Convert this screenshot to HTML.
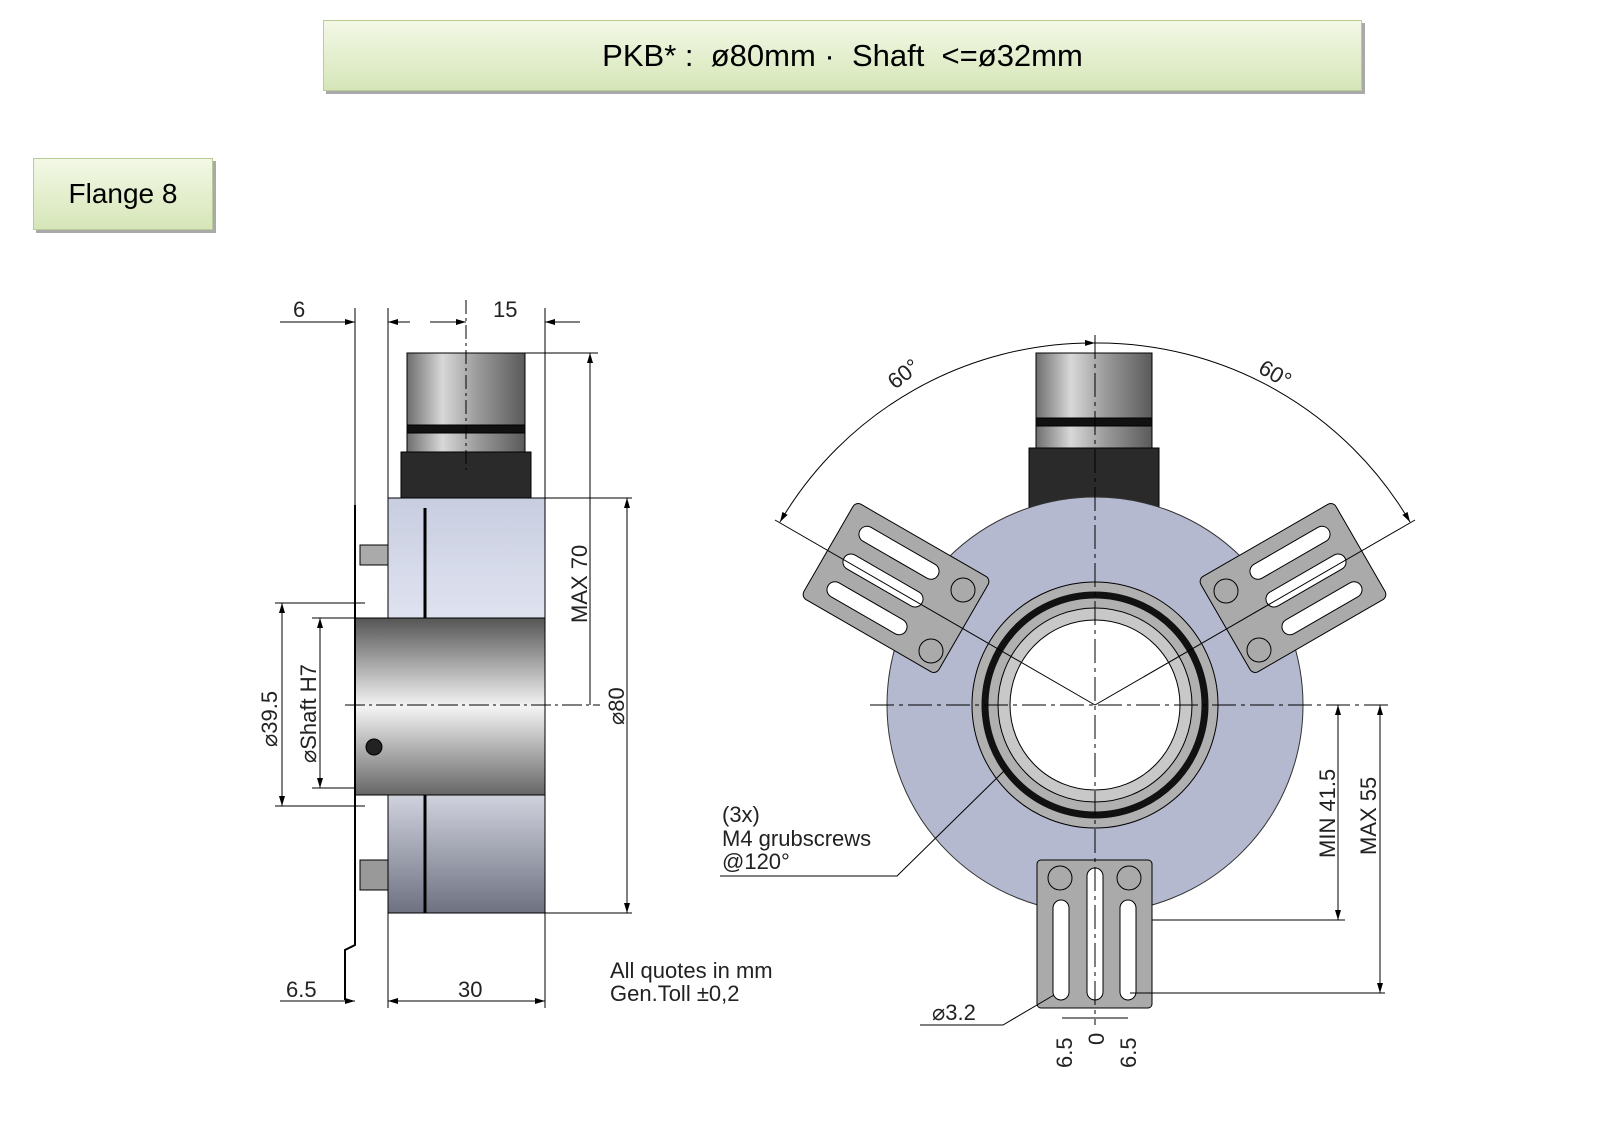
<!DOCTYPE html>
<html><head><meta charset="utf-8"><style>
body{margin:0;background:#fff;width:1597px;height:1128px;overflow:hidden;font-family:"Liberation Sans",sans-serif}
.box{position:absolute;background:linear-gradient(#f3f8e6,#d6e6b8);border:1px solid #b9cc97;box-shadow:3px 3px 0 #a9a9a9;color:#000;display:flex;align-items:center;justify-content:center}
</style></head><body>
<div class="box" style="left:323px;top:20px;width:1037px;height:69px;font-size:31px">PKB* :&nbsp; ø80mm ·&nbsp; Shaft&nbsp; &lt;=ø32mm</div>
<div class="box" style="left:33px;top:158px;width:178px;height:70px;font-size:28px">Flange 8</div>
<svg width="1597" height="1128" style="position:absolute;left:0;top:0" font-family="Liberation Sans" fill="none">
<defs>
<linearGradient id="met" x1="0" x2="1"><stop offset="0" stop-color="#6e6e6e"/><stop offset=".3" stop-color="#d8d8d8"/><stop offset=".6" stop-color="#9a9a9a"/><stop offset="1" stop-color="#5a5a5a"/></linearGradient>
<linearGradient id="shaft" x1="0" y1="0" x2="0" y2="1"><stop offset="0" stop-color="#555"/><stop offset=".5" stop-color="#f4f4f4"/><stop offset="1" stop-color="#666"/></linearGradient>
<linearGradient id="body" x1="0" y1="0" x2="0" y2="1"><stop offset="0" stop-color="#c8cde0"/><stop offset="1" stop-color="#dfe3f0"/></linearGradient>
<linearGradient id="body2" x1="0" y1="0" x2="0" y2="1"><stop offset="0" stop-color="#d0d3de"/><stop offset="1" stop-color="#6e7180"/></linearGradient>
<marker id="a" viewBox="0 0 10 6" refX="10" refY="3" markerWidth="10" markerHeight="6" orient="auto-start-reverse"><path d="M0 0L10 3L0 6z" fill="#000"/></marker>
</defs>
<g stroke="#000" stroke-width="1">
<rect x="407" y="353" width="118" height="100" fill="url(#met)"/>
<rect x="407" y="425" width="118" height="8" fill="#111"/>
<rect x="401" y="452" width="130" height="56" fill="#2a2a2a"/>
<rect x="388" y="498" width="157" height="120" fill="url(#body)"/>
<rect x="388" y="795" width="157" height="118" fill="url(#body2)"/>
<line x1="425" y1="508" x2="425" y2="618" stroke-width="3"/>
<line x1="425" y1="795" x2="425" y2="913" stroke-width="3"/>
<rect x="355" y="618" width="190" height="177" fill="url(#shaft)"/>
<circle cx="374" cy="747" r="8" fill="#222"/>
<path d="M355 505V945L345 950V1000" stroke-width="2"/>
<rect x="360" y="545" width="28" height="20" fill="#aaa"/>
<rect x="360" y="860" width="28" height="30" fill="#999"/>
<line x1="355" y1="308" x2="355" y2="505"/><line x1="388" y1="308" x2="388" y2="498"/>
<line x1="545" y1="308" x2="545" y2="498"/><line x1="466" y1="300" x2="466" y2="470" stroke-dasharray="14 4 3 4"/>
<line x1="280" y1="322" x2="355" y2="322" marker-end="url(#a)"/>
<line x1="388" y1="322" x2="410" y2="322" marker-start="url(#a)"/>
<line x1="430" y1="322" x2="466" y2="322" marker-end="url(#a)"/>
<line x1="545" y1="322" x2="580" y2="322" marker-start="url(#a)"/>
<line x1="525" y1="353" x2="598" y2="353"/><line x1="545" y1="498" x2="632" y2="498"/><line x1="545" y1="913" x2="632" y2="913"/>
<line x1="590" y1="353" x2="590" y2="705" marker-start="url(#a)"/>
<line x1="627" y1="498" x2="627" y2="913" marker-start="url(#a)" marker-end="url(#a)"/>
<line x1="345" y1="705" x2="600" y2="705" stroke-dasharray="20 4 3 4"/>
<line x1="275" y1="603" x2="365" y2="603"/><line x1="275" y1="806" x2="365" y2="806"/>
<line x1="282" y1="603" x2="282" y2="806" marker-start="url(#a)" marker-end="url(#a)"/>
<line x1="312" y1="618" x2="355" y2="618"/><line x1="312" y1="788" x2="355" y2="788"/>
<line x1="320" y1="618" x2="320" y2="788" marker-start="url(#a)" marker-end="url(#a)"/>
<line x1="388" y1="913" x2="388" y2="1008"/><line x1="545" y1="913" x2="545" y2="1008"/>
<line x1="280" y1="1001" x2="355" y2="1001" marker-end="url(#a)"/>
<line x1="388" y1="1001" x2="545" y2="1001" marker-start="url(#a)" marker-end="url(#a)"/>
<rect x="1036" y="353" width="116" height="95" fill="url(#met)"/>
<rect x="1036" y="418" width="116" height="8" fill="#111"/>
<rect x="1029" y="448" width="130" height="60" fill="#2a2a2a"/>
<circle cx="1095" cy="705" r="208" fill="#b4b9cf" stroke="#333"/>
<circle cx="1095" cy="705" r="123" fill="#b0b0b0"/>
<circle cx="1095" cy="705" r="110" fill="none" stroke="#111" stroke-width="7"/>
<circle cx="1095" cy="705" r="97" fill="#c8c8c8"/>
<circle cx="1095" cy="705" r="85" fill="#fff"/>
<g fill="#aaa"><g transform="translate(896,588) rotate(30)"><rect x="-78" y="-55" width="156" height="110" rx="6"/>
<rect x="-60" y="-40" width="90" height="16" rx="8" fill="#fff"/><rect x="-60" y="-8" width="90" height="16" rx="8" fill="#fff"/><rect x="-60" y="24" width="90" height="16" rx="8" fill="#fff"/></g>
<g transform="translate(1293,588) rotate(-30)"><rect x="-78" y="-55" width="156" height="110" rx="6"/>
<rect x="-30" y="-40" width="90" height="16" rx="8" fill="#fff"/><rect x="-30" y="-8" width="90" height="16" rx="8" fill="#fff"/><rect x="-30" y="24" width="90" height="16" rx="8" fill="#fff"/></g>
<rect x="1037" y="860" width="115" height="148" rx="4"/>
<rect x="1053" y="900" width="16" height="100" rx="8" fill="#fff"/><rect x="1087" y="868" width="16" height="132" rx="8" fill="#fff"/><rect x="1120" y="900" width="16" height="100" rx="8" fill="#fff"/>
<circle cx="963" cy="590" r="12"/><circle cx="931" cy="651" r="12"/><circle cx="1226" cy="591" r="12"/><circle cx="1259" cy="650" r="12"/><circle cx="1060" cy="878" r="12"/><circle cx="1129" cy="878" r="12"/></g>
<line x1="870" y1="705" x2="1390" y2="705" stroke-dasharray="24 5 4 5"/>
<line x1="1095" y1="335" x2="1095" y2="1025" stroke-dasharray="24 5 4 5"/>
<line x1="1095" y1="705" x2="775" y2="520"/><line x1="1095" y1="705" x2="1415" y2="520"/>
<path d="M780 522A362 362 0 0 1 1095 343" marker-start="url(#a)" marker-end="url(#a)"/>
<path d="M1095 343A362 362 0 0 1 1410 522" marker-end="url(#a)"/>
<line x1="1152" y1="920" x2="1345" y2="920"/><line x1="1130" y1="993" x2="1385" y2="993"/>
<line x1="1338" y1="705" x2="1338" y2="920" marker-start="url(#a)" marker-end="url(#a)"/>
<line x1="1380" y1="705" x2="1380" y2="993" marker-start="url(#a)" marker-end="url(#a)"/>
<path d="M720 876H897L1005 770"/>
<path d="M920 1025H1003L1054 995"/>
<line x1="1062" y1="1018" x2="1128" y2="1018"/>
</g>
<g fill="#222" font-size="22">
<text x="293" y="317">6</text><text x="493" y="317">15</text>
<text x="286" y="997">6.5</text><text x="458" y="997">30</text>
<text transform="translate(587,623) rotate(-90)">MAX 70</text>
<text transform="translate(624,725) rotate(-90)">⌀80</text>
<text transform="translate(277,747) rotate(-90)">⌀39.5</text>
<text transform="translate(316,763) rotate(-90)">⌀Shaft H7</text>
<text x="610" y="978">All quotes in mm</text><text x="610" y="1001">Gen.Toll ±0,2</text>
<text x="722" y="822">(3x)</text><text x="722" y="846">M4 grubscrews</text><text x="722" y="869">@120°</text>
<text x="932" y="1020">⌀3.2</text>
<text transform="translate(895,390) rotate(-38)">60°</text>
<text transform="translate(1257,372) rotate(30)">60°</text>
<text transform="translate(1335,858) rotate(-90)">MIN 41.5</text>
<text transform="translate(1376,855) rotate(-90)">MAX 55</text>
<text transform="translate(1072,1068) rotate(-90)">6.5</text>
<text transform="translate(1104,1045) rotate(-90)">0</text>
<text transform="translate(1136,1068) rotate(-90)">6.5</text>
</g>
</svg>
</body></html>
